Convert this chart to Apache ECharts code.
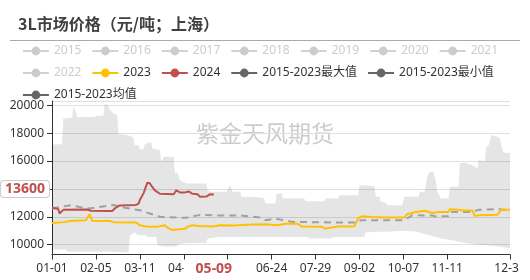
<!DOCTYPE html>
<html><head><meta charset="utf-8">
<script src="https://cdn.jsdelivr.net/npm/echarts@6/dist/echarts.min.js"></script>
<style>html,body{margin:0;padding:0;background:#fff}#c{width:520px;height:280px}</style>
</head><body><div id="c"></div>
<script>
// ---- categories (leap-year calendar days) ----
const monthDays = [31,29,31,30,31,30,31,31,30,31,30,31];
const categories = [];
monthDays.forEach((n, m) => { for (let d = 1; d <= n; d++) categories.push(String(m + 1).padStart(2, '0') + '-' + String(d).padStart(2, '0')); });

const xTickLabels = ['01-01','02-05','03-11','04-15','05-20','06-24','07-29','09-02','10-07','11-11','12-31'];
const hiddenYears = ['2015','2016','2017','2018','2019','2020','2021','2022'];
const latestDate = '05-09';
const latestValue = 13600;
const latestLabelLevel = 14000;

const data2023 = [['01-01',11550],['01-11',11620],['01-15',11700],['01-28',11760],['01-29',11850],['01-31',12190],['02-02',11720],['02-16',11700],['02-19',11620],['03-08',11600],['03-11',11400],['03-16',11300],['03-24',11280],['03-27',11330],['03-31',11400],['04-02',11220],['04-06',11050],['04-10',11100],['04-16',11150],['04-18',11300],['04-22',11400],['04-27',11350],['05-08',11300],['05-14',11400],['05-24',11380],['06-09',11450],['06-19',11460],['06-29',11400],['07-05',11500],['07-15',11500],['07-18',11300],['08-03',11280],['08-06',11160],['08-16',11300],['08-29',11330],['09-01',11900],['09-04',12040],['09-12',11990],['09-22',11950],['10-08',11950],['10-10',12190],['10-17',12350],['10-24',12430],['10-30',12280],['11-04',12350],['11-12',12350],['11-13',12550],['11-20',12500],['11-23',12450],['12-01',12450],['12-03',12050],['12-06',12110],['12-21',12150],['12-24',12500],['12-31',12500]];

const data2024 = [['01-01',12650],['01-04',12600],['01-06',12560],['01-07',12240],['01-10',12500],['01-29',12530],['02-01',12440],['02-18',12420],['02-20',12600],['02-24',12820],['03-08',12850],['03-10',12950],['03-11',13200],['03-14',13700],['03-17',14450],['03-19',14400],['03-20',14250],['03-23',13900],['03-27',13650],['04-07',13620],['04-09',13900],['04-12',13750],['04-16',13750],['04-19',13820],['04-22',13650],['04-26',13620],['04-28',13430],['05-03',13450],['05-06',13620],['05-09',13600]];

const dataMean = [['01-01',12600],['01-07',12700],['01-16',12830],['01-23',12700],['01-31',12600],['02-08',12700],['02-19',12850],['02-28',12650],['03-11',12470],['03-19',12240],['03-27',12000],['04-17',11930],['04-28',12140],['05-11',12100],['05-30',12100],['06-15',11950],['06-19',11760],['06-27',11880],['07-10',11640],['08-11',11600],['09-01',11600],['09-03',11760],['10-08',11760],['10-14',12110],['10-30',12100],['11-01',12040],['11-12',12040],['11-14',12350],['12-01',12350],['12-06',12500],['12-22',12550],['12-31',12450]];

const dataMax = [['01-01',17180],['01-09',17200],['01-10',19050],['01-17',19100],['01-18',19880],['01-20',19570],['01-21',19160],['02-04',19160],['02-05',19250],['02-11',19250],['02-12',20050],['02-14',20050],['02-16',19700],['02-19',19400],['02-22',19300],['02-23',17950],['03-04',17800],['03-06',17610],['03-07',17130],['03-10',17130],['03-11',16850],['03-14',16850],['03-15',17200],['03-20',17370],['03-21',16900],['03-27',16780],['03-28',15940],['03-30',16300],['04-07',16300],['04-08',15100],['04-10',15200],['04-12',14620],['04-17',14390],['05-03',14390],['05-04',13900],['05-06',13790],['05-19',13790],['05-22',14270],['05-24',13790],['05-30',13790],['05-31',13430],['06-09',13430],['06-18',13350],['06-19',12950],['06-27',12950],['06-28',13670],['07-02',13670],['07-03',13310],['07-20',13310],['07-21',13120],['08-05',13120],['08-06',13310],['08-16',13310],['08-17',13550],['09-01',13550],['09-02',14270],['09-14',14200],['09-15',13430],['09-18',13430],['09-19',13070],['09-22',13070],['09-25',12830],['10-06',12830],['10-08',13430],['10-19',13430],['10-20',13790],['10-24',13790],['10-26',14860],['10-28',15220],['10-31',15220],['11-02',14500],['11-03',13790],['11-06',13310],['11-12',13310],['11-13',14150],['11-20',14150],['11-21',15820],['11-25',15900],['12-01',15700],['12-05',15460],['12-06',16070],['12-11',15950],['12-12',17010],['12-14',17130],['12-16',17850],['12-19',17800],['12-23',17650],['12-24',17130],['12-26',16600],['12-31',16600]];

const dataMin = [['01-01',9655],['01-12',9655],['01-13',9490],['02-16',9490],['03-02',9450],['03-03',10600],['03-07',10900],['03-09',10700],['03-16',10680],['03-17',10560],['03-24',10560],['03-25',9960],['03-30',9880],['04-09',9880],['04-10',10000],['04-17',10130],['05-03',10130],['05-04',10440],['05-14',10560],['07-23',10560],['07-24',10440],['08-11',10440],['08-12',10560],['09-06',10560],['09-07',10900],['09-27',10950],['10-07',11000],['10-17',10950],['10-27',10700],['11-06',10450],['11-16',10300],['11-26',10100],['12-06',10000],['12-21',9900],['12-31',9750]];

const FONT = '"Noto Sans", "Noto Sans CJK SC", sans-serif';
const chart = echarts.init(document.getElementById('c'), null, {renderer: 'canvas'});

const selected = {};
hiddenYears.forEach(y => selected[y] = false);

const series = hiddenYears.map(y => ({name: y, type: 'line', data: [], symbol: 'circle', showSymbol: false}));
series.push({
  name: 'band', type: 'custom', silent: true, z: 1,
  data: [[0, dataMin[0][1]]], encode: {x: 0, y: 1},
  renderItem: function (params, api) {
    if (params.dataIndex !== 0) return null;
    const pts = dataMax.map(d => api.coord([categories.indexOf(d[0]), d[1]]));
    for (let i = dataMin.length - 1; i >= 0; i--) pts.push(api.coord([categories.indexOf(dataMin[i][0]), dataMin[i][1]]));
    return {type: 'polygon', shape: {points: pts}, style: {fill: 'rgba(0,0,0,0.1)'}};
  }
});
series.push({name: '2023', type: 'line', data: data2023, symbol: 'circle', showSymbol: false, z: 4,
  itemStyle: {color: '#ffc000'}, lineStyle: {color: '#ffc000', width: 2}});
series.push({name: '2024', type: 'line', data: data2024, symbol: 'circle', showSymbol: false, z: 5,
  itemStyle: {color: '#c0504d'}, lineStyle: {color: '#c0504d', width: 2}});
series.push({name: '2015-2023最大值', type: 'line', data: dataMax, symbol: 'circle', showSymbol: false, silent: true,
  itemStyle: {color: '#666'}, lineStyle: {width: 0, opacity: 0}});
series.push({name: '2015-2023最小值', type: 'line', data: dataMin, symbol: 'circle', showSymbol: false, silent: true,
  itemStyle: {color: '#666'}, lineStyle: {width: 0, opacity: 0}});
series.push({name: '2015-2023均值', type: 'line', data: dataMean, symbol: 'circle', showSymbol: false, z: 3,
  itemStyle: {color: '#666'}, lineStyle: {color: '#a0a0a0', width: 2, type: [7, 5]}});

const darkIcon = {itemStyle: {color: '#666'}, lineStyle: {color: '#666', width: 2, opacity: 1, type: 'solid'}};
const legendData = hiddenYears.map(y => ({name: y})).concat([
  {name: '2023'}, {name: '2024'},
  Object.assign({name: '2015-2023最大值'}, darkIcon),
  Object.assign({name: '2015-2023最小值'}, darkIcon),
  Object.assign({name: '2015-2023均值'}, darkIcon)
]);

chart.setOption({
  animation: false,
  textStyle: {fontFamily: FONT},
  title: {text: '3L市场价格（元/吨；上海）', left: 13, top: 11,
    textStyle: {fontSize: 16, fontWeight: 'bold', color: '#404040', fontFamily: '"Noto Sans CJK SC", sans-serif'}},
  legend: {left: 'center', top: 40, itemWidth: 26, itemHeight: 11, itemGap: 10,
    inactiveColor: '#ccc', selected: selected, data: legendData,
    textStyle: {fontSize: 12, color: '#333', fontFamily: FONT}},
  grid: {left: 52, right: 10, top: 101, bottom: 25.5, containLabel: false, outerBoundsMode: 'none'},
  graphic: [
    {type: 'line', shape: {x1: 10, y1: 40.5, x2: 520, y2: 40.5}, style: {stroke: '#aaa', lineWidth: 1}, silent: true, z: 0},
    {type: 'text', x: 265, y: 133, z: 0, silent: true,
      style: {text: '紫金天风期货', font: '23px "Noto Sans CJK SC", sans-serif', fill: '#ccc', textAlign: 'center', textVerticalAlign: 'middle'}}
  ],
  xAxis: {
    type: 'category', data: categories, boundaryGap: false,
    axisLine: {lineStyle: {color: '#333'}},
    axisTick: {show: true, length: 5, interval: (i, v) => xTickLabels.includes(v), lineStyle: {color: '#333'}},
    axisLabel: {interval: (i, v) => xTickLabels.includes(v), color: '#333', fontSize: 12, margin: 8, fontFamily: FONT},
    axisPointer: {show: true, type: 'line', value: categories.indexOf(latestDate), status: 'show', triggerTooltip: false,
      lineStyle: {opacity: 0},
      label: {show: true, color: '#c0504d', fontWeight: 'bold', fontSize: 14, backgroundColor: '#fff', padding: [2, 12], margin: 6, fontFamily: FONT}}
  },
  yAxis: {
    type: 'value', min: 9300, max: 20300,
    axisLine: {show: true, lineStyle: {color: '#333'}},
    axisTick: {show: true, length: 5, lineStyle: {color: '#333'}},
    axisLabel: {color: '#333', fontSize: 12, margin: 8, showMinLabel: false, showMaxLabel: false, fontFamily: FONT,
      formatter: v => String(v)},
    splitLine: {lineStyle: {color: '#e0e0e0'}},
    axisPointer: {show: true, type: 'line', value: latestLabelLevel, status: 'show', triggerTooltip: false,
      lineStyle: {opacity: 0},
      label: {show: true, formatter: () => String(latestValue), color: '#c0504d', fontWeight: 'bold', fontSize: 14,
        backgroundColor: '#fff', borderColor: '#ccc', borderWidth: 1, padding: [1, 4], margin: 3, fontFamily: FONT}}
  },
  series: series
});
</script></body></html>
